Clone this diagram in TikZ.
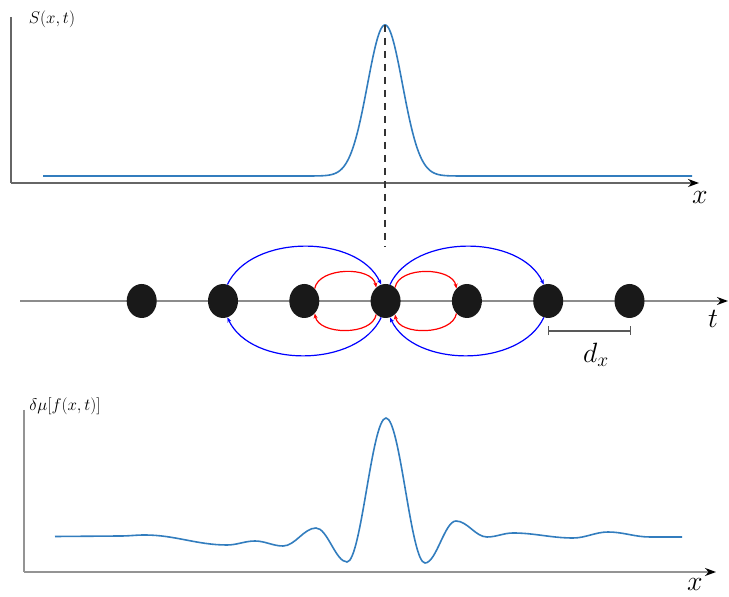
\RequirePackage{fix-cm}
\documentclass[tikz,border=0pt]{standalone}
\usetikzlibrary{arrows.meta,shapes.geometric}
\definecolor{curve}{RGB}{50,125,190}
\tikzset{
  axisdark/.style={draw=black!60, line width=1.1bp, -{Stealth[length=11bp,width=8bp,black]}},
  axislight/.style={draw=black!42, line width=1.4bp, -{Stealth[length=11bp,width=8bp,black]}},
  yaxis/.style={draw=black!60, line width=1.1bp},
  yaxislight/.style={draw=black!42, line width=1.4bp},
  dot/.style={ellipse, fill=black!90, minimum width=30bp, minimum height=34bp, inner sep=0pt},
  sig/.style={draw=curve, line width=1.6bp},
  bluearc/.style={draw=blue, line width=1.2bp, -{Stealth[length=5bp,width=4bp]}},
  redarc/.style={draw=red, line width=1.2bp, -{Stealth[length=5bp,width=4bp]}},
  biglab/.style={font=\fontsize{28}{30}\selectfont, inner sep=0pt},
  smalllab/.style={font=\fontsize{17}{19}\selectfont, inner sep=0pt},
}
\begin{document}
\begin{tikzpicture}[x=1bp,y=1bp]
\useasboundingbox (0,0) rectangle (729,597);
% ---------- top plot ----------
\coordinate (t0) at (11,414);
\coordinate (ttop) at (11,580);
\coordinate (tend) at (699,414);
\draw[yaxis] (ttop) -- (t0);
\draw[axisdark] (t0) -- (tend);
\node[biglab] (tx) at (700,399) {$x$};
\node[smalllab] (tS) at (52,578) {$S(x,t)$};
\draw[sig] (43,421) -- (295,421)
  -- plot[domain=295:475, samples=180] (\x, {421 + 151*exp(-0.5*((\x-385)/17.5)^2)})
  -- (692,421);
\coordinate (peak) at (385,572);
\coordinate (dashend) at (385,350);
\draw[black!80, line width=1.2bp, dash pattern=on 7bp off 6bp] (peak) -- (dashend);
% ---------- middle ----------
\coordinate (m0) at (20,296);
\coordinate (mend) at (728,296);
\draw[axislight, draw=black!45] (m0) -- (mend);
\node[biglab] (tt) at (713,278) {$t$};
\foreach \i/\xx in {1/141.7,2/223,3/304.3,4/385.6,5/466.9,6/548.2,7/629.5}
  \node[dot] (d\i) at (\xx,296) {};
% blue arcs
\draw[bluearc] (d2.75) .. controls +(65:56) and +(115:56) .. (d4.105);
\draw[bluearc] (d4.255) .. controls +(245:56) and +(295:56) .. (d2.285);
\draw[bluearc] (d4.75) .. controls +(65:56) and +(115:56) .. (d6.105);
\draw[bluearc] (d6.255) .. controls +(245:56) and +(295:56) .. (d4.285);
% red arcs
\draw[redarc] (d3.50) .. controls +(80:22) and +(100:22) .. (d4.125);
\draw[redarc] (d4.235) .. controls +(260:22) and +(280:22) .. (d3.310);
\draw[redarc] (d4.55) .. controls +(80:22) and +(100:22) .. (d5.130);
\draw[redarc] (d5.230) .. controls +(260:22) and +(280:22) .. (d4.305);
% d_x bracket
\coordinate (b1) at (548.2,266);
\coordinate (b2) at (631,266);
\draw[black!65, line width=1.2bp, {Bar[width=9bp]}-{Bar[width=9bp]}] (b1) -- (b2);
\node[biglab] (dx) at (596,242) {$d_x$};
% ---------- bottom plot ----------
\coordinate (b0) at (24,25);
\coordinate (btop) at (24,187);
\coordinate (bend) at (716,25);
\draw[yaxislight] (btop) -- (b0);
\draw[axislight] (b0) -- (bend);
\node[biglab] (bx) at (695,13) {$x$};
\node[smalllab] (bmu) at (65,191) {$\delta\mu[f(x,t)]$};
\draw[sig] (55,60.5)
  -- (120,61)
  .. controls +(10,0) and +(-10,0) .. (145,62)
  .. controls +(29.8,0) and +(-29.8,0) .. (227,52)
  .. controls +(10.2,0) and +(-10.2,0) .. (255,56)
  .. controls +(10.2,0) and +(-10.2,0) .. (283,51)
  .. controls +(12,0) and +(-12,0) .. (316,69)
  .. controls +(11.3,0) and +(-11.3,0) .. (347,35)
  .. controls +(14.2,0) and +(-14.2,0) .. (386,179)
  .. controls +(14.2,0) and +(-14.2,0) .. (425,34)
  .. controls +(11.3,0) and +(-11.3,0) .. (456,76)
  .. controls +(11.3,0) and +(-11.3,0) .. (487,60)
  .. controls +(9.5,0) and +(-9.5,0) .. (513,64)
  .. controls +(21.8,0) and +(-21.8,0) .. (573,59)
  .. controls +(12.7,0) and +(-12.7,0) .. (608,65)
  .. controls +(15.3,0) and +(-15.3,0) .. (650,60)
  -- (682,60);
\end{tikzpicture}
\end{document}
